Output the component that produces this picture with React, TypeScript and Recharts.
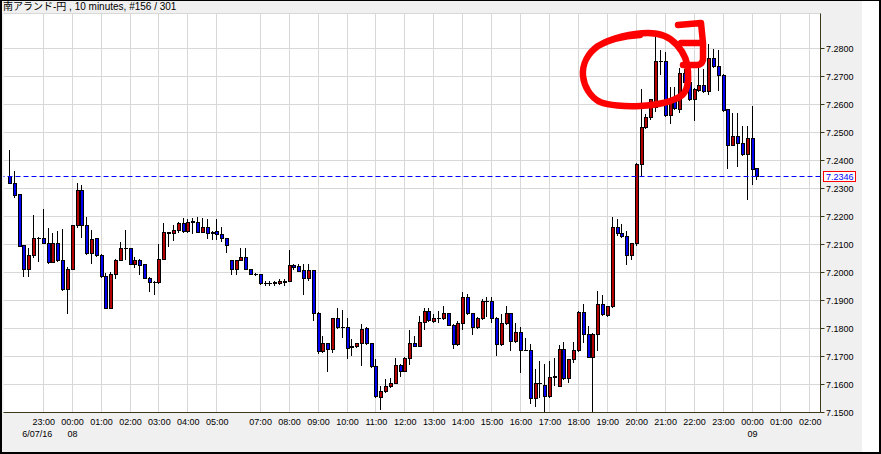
import React from 'react';
import { ComposedChart, Bar, XAxis, YAxis, CartesianGrid, ReferenceLine } from 'recharts';

const FONT = "'Liberation Sans', Arial, sans-serif";
const FRAME = '#3a3a1a';
const UP = '#b40000';
const DOWN = '#0000f0';
const GRID = '#d8d8d8';
const PAD = { left: 4, right: 3 };

// 10-minute slots (the ones after 00:10 are still empty)
const times = [
  '21:50', '22:00', '22:10', '22:20', '22:30', '22:40', '22:50',
  '23:00', '23:10', '23:20', '23:30', '23:40', '23:50',
  '00:00', '00:10', '00:20', '00:30', '00:40', '00:50',
  '01:00', '01:10', '01:20', '01:30', '01:40', '01:50',
  '02:00', '02:10', '02:20', '02:30', '02:40', '02:50',
  '03:00', '03:10', '03:20', '03:30', '03:40', '03:50',
  '04:00', '04:10', '04:20', '04:30', '04:40', '04:50',
  '05:00', '05:10', '05:20',
  '06:00', '06:10', '06:20', '06:30', '06:40', '06:50',
  '07:00', '07:10', '07:20', '07:30', '07:40', '07:50',
  '08:00', '08:10', '08:20', '08:30', '08:40', '08:50',
  '09:00', '09:10', '09:20', '09:30', '09:40', '09:50',
  '10:00', '10:10', '10:20', '10:30', '10:40', '10:50',
  '11:00', '11:10', '11:20', '11:30', '11:40', '11:50',
  '12:00', '12:10', '12:20', '12:30', '12:40', '12:50',
  '13:00', '13:10', '13:20', '13:30', '13:40', '13:50',
  '14:00', '14:10', '14:20', '14:30', '14:40', '14:50',
  '15:00', '15:10', '15:20', '15:30', '15:40', '15:50',
  '16:00', '16:10', '16:20', '16:30', '16:40', '16:50',
  '17:00', '17:10', '17:20', '17:30', '17:40', '17:50',
  '18:00', '18:10', '18:20', '18:30', '18:40', '18:50',
  '19:00', '19:10', '19:20', '19:30', '19:40', '19:50',
  '20:00', '20:10', '20:20', '20:30', '20:40', '20:50',
  '21:00', '21:10', '21:20', '21:30', '21:40', '21:50',
  '22:00', '22:10', '22:20', '22:30', '22:40', '22:50',
  '23:00', '23:10', '23:20', '23:30', '23:40', '23:50',
  '00:00', '00:10', '00:20', '00:30', '00:40', '00:50',
  '01:00', '01:10', '01:20', '01:30', '01:40', '01:50',
  '02:00', '02:10',
];

const opens = [
  7.2343, 7.2321, 7.2280, 7.2098, 7.2014, 7.2061, 7.2125, 7.2125, 7.2107, 7.2038,
  7.2104, 7.2043, 7.1942, 7.2014, 7.2168, 7.2293, 7.2171, 7.2071, 7.2123, 7.2064,
  7.1986, 7.1875, 7.1996, 7.2046, 7.2087, 7.2087, 7.2031, 7.2046, 7.2030, 7.1982,
  7.1967, 7.1965, 7.2050, 7.2143, 7.2140, 7.2152, 7.2176, 7.2149, 7.2179, 7.2182,
  7.2146, 7.2161, 7.2146, 7.2148, 7.2136, 7.2124, 7.2044, 7.2013, 7.2046, 7.2057,
  7.2011, 7.1995, 7.1994, 7.1962, 7.1963, 7.1964, 7.1964, 7.1966, 7.1970, 7.2026,
  7.2024, 7.2008, 7.1982, 7.2008, 7.1857, 7.1721, 7.1747, 7.1726, 7.1836, 7.1806,
  7.1806, 7.1736, 7.1736, 7.1747, 7.1802, 7.1747, 7.1665, 7.1557, 7.1577, 7.1595,
  7.1607, 7.1671, 7.1649, 7.1693, 7.1750, 7.1738, 7.1825, 7.1864, 7.1827, 7.1836,
  7.1836, 7.1855, 7.1814, 7.1743, 7.1821, 7.1914, 7.1854, 7.1804, 7.1836, 7.1898,
  7.1899, 7.1839, 7.1743, 7.1818, 7.1854, 7.1754, 7.1786, 7.1725, 7.1724, 7.1551,
  7.1604, 7.1600, 7.1558, 7.1628, 7.1596, 7.1726, 7.1622, 7.1690, 7.1722, 7.1858,
  7.1779, 7.1700, 7.1780, 7.1887, 7.1850, 7.1879, 7.2164, 7.2140, 7.2129, 7.2061,
  7.2104, 7.2387, 7.2518, 7.2554, 7.2590, 7.2756, 7.2756, 7.2563, 7.2619, 7.2583,
  7.2711, 7.2682, 7.2618, 7.2653, 7.2671, 7.2647, 7.2767, 7.2736, 7.2704, 7.2583,
  7.2457, 7.2486, 7.2464, 7.2425, 7.2482, 7.2374,
];

const highs = [
  7.2437, 7.2361, 7.2282, 7.2100, 7.2087, 7.2205, 7.2126, 7.2226, 7.2158, 7.2140,
  7.2147, 7.2156, 7.2019, 7.2170, 7.2321, 7.2313, 7.2200, 7.2151, 7.2125, 7.2067,
  7.2000, 7.2002, 7.2048, 7.2108, 7.2151, 7.2088, 7.2054, 7.2048, 7.2031, 7.1983,
  7.1968, 7.2101, 7.2177, 7.2145, 7.2169, 7.2182, 7.2194, 7.2190, 7.2193, 7.2198,
  7.2195, 7.2190, 7.2147, 7.2190, 7.2164, 7.2125, 7.2045, 7.2046, 7.2087, 7.2087,
  7.2012, 7.1997, 7.1996, 7.1970, 7.1969, 7.1970, 7.1976, 7.1976, 7.2080, 7.2032,
  7.2030, 7.2030, 7.2030, 7.2009, 7.1858, 7.1774, 7.1748, 7.1837, 7.1872, 7.1866,
  7.1836, 7.1762, 7.1749, 7.1815, 7.1804, 7.1748, 7.1691, 7.1595, 7.1619, 7.1623,
  7.1695, 7.1672, 7.1700, 7.1794, 7.1774, 7.1845, 7.1873, 7.1875, 7.1851, 7.1862,
  7.1879, 7.1857, 7.1815, 7.1827, 7.1929, 7.1923, 7.1856, 7.1840, 7.1905, 7.1911,
  7.1911, 7.1840, 7.1851, 7.1881, 7.1855, 7.1820, 7.1804, 7.1765, 7.1745, 7.1654,
  7.1684, 7.1672, 7.1685, 7.1695, 7.1742, 7.1751, 7.1692, 7.1751, 7.1864, 7.1887,
  7.1810, 7.1783, 7.1933, 7.1921, 7.1880, 7.2197, 7.2191, 7.2173, 7.2147, 7.2107,
  7.2390, 7.2655, 7.2565, 7.2620, 7.2843, 7.2793, 7.2786, 7.2661, 7.2661, 7.2732,
  7.2726, 7.2690, 7.2660, 7.2751, 7.2728, 7.2817, 7.2799, 7.2796, 7.2708, 7.2584,
  7.2569, 7.2571, 7.2524, 7.2524, 7.2593, 7.2375,
];

const lows = [
  7.2318, 7.2268, 7.2093, 7.1986, 7.1988, 7.2057, 7.2042, 7.2104, 7.2035, 7.2036,
  7.2040, 7.1938, 7.1857, 7.2012, 7.2164, 7.2127, 7.2067, 7.2035, 7.2060, 7.1983,
  7.1873, 7.1873, 7.1979, 7.2045, 7.2048, 7.2029, 7.2020, 7.1994, 7.1981, 7.1935,
  7.1924, 7.1963, 7.2048, 7.2093, 7.2117, 7.2146, 7.2143, 7.2145, 7.2141, 7.2143,
  7.2143, 7.2123, 7.2119, 7.2119, 7.2112, 7.2075, 7.1993, 7.1995, 7.2045, 7.2011,
  7.1994, 7.1992, 7.1960, 7.1955, 7.1955, 7.1956, 7.1958, 7.1955, 7.1968, 7.2014,
  7.2005, 7.1925, 7.1975, 7.1831, 7.1713, 7.1715, 7.1650, 7.1715, 7.1802, 7.1771,
  7.1694, 7.1705, 7.1734, 7.1671, 7.1745, 7.1663, 7.1557, 7.1514, 7.1573, 7.1592,
  7.1605, 7.1629, 7.1647, 7.1673, 7.1736, 7.1736, 7.1800, 7.1827, 7.1825, 7.1822,
  7.1835, 7.1811, 7.1729, 7.1741, 7.1800, 7.1852, 7.1782, 7.1802, 7.1834, 7.1845,
  7.1825, 7.1706, 7.1741, 7.1816, 7.1724, 7.1752, 7.1644, 7.1722, 7.1534, 7.1525,
  7.1554, 7.1505, 7.1556, 7.1598, 7.1594, 7.1620, 7.1608, 7.1682, 7.1720, 7.1751,
  7.1698, 7.1500, 7.1724, 7.1850, 7.1846, 7.1877, 7.2135, 7.2127, 7.2032, 7.2050,
  7.2100, 7.2348, 7.2515, 7.2550, 7.2577, 7.2708, 7.2560, 7.2533, 7.2583, 7.2574,
  7.2680, 7.2615, 7.2543, 7.2650, 7.2645, 7.2638, 7.2733, 7.2652, 7.2578, 7.2375,
  7.2455, 7.2381, 7.2420, 7.2262, 7.2315, 7.2333,
];

const closes = [
  7.2321, 7.2277, 7.2095, 7.2014, 7.2061, 7.2125, 7.2124, 7.2106, 7.2038, 7.2104,
  7.2043, 7.1940, 7.2014, 7.2168, 7.2293, 7.2170, 7.2071, 7.2121, 7.2063, 7.1986,
  7.1875, 7.1996, 7.2046, 7.2087, 7.2086, 7.2031, 7.2046, 7.2027, 7.1982, 7.1967,
  7.1965, 7.2050, 7.2143, 7.2142, 7.2152, 7.2176, 7.2149, 7.2180, 7.2185, 7.2146,
  7.2161, 7.2142, 7.2142, 7.2136, 7.2124, 7.2100, 7.2014, 7.2046, 7.2056, 7.2012,
  7.1995, 7.1994, 7.1961, 7.1963, 7.1964, 7.1965, 7.1968, 7.1971, 7.2026, 7.2021,
  7.2006, 7.1982, 7.2008, 7.1857, 7.1721, 7.1747, 7.1726, 7.1836, 7.1804, 7.1805,
  7.1732, 7.1735, 7.1747, 7.1800, 7.1747, 7.1665, 7.1559, 7.1577, 7.1595, 7.1607,
  7.1671, 7.1649, 7.1693, 7.1750, 7.1738, 7.1825, 7.1864, 7.1829, 7.1836, 7.1837,
  7.1855, 7.1813, 7.1743, 7.1821, 7.1914, 7.1854, 7.1804, 7.1836, 7.1898, 7.1897,
  7.1839, 7.1743, 7.1818, 7.1855, 7.1754, 7.1786, 7.1724, 7.1724, 7.1551, 7.1604,
  7.1605, 7.1558, 7.1628, 7.1629, 7.1726, 7.1622, 7.1690, 7.1722, 7.1858, 7.1779,
  7.1700, 7.1780, 7.1887, 7.1852, 7.1879, 7.2164, 7.2141, 7.2129, 7.2061, 7.2104,
  7.2387, 7.2518, 7.2554, 7.2619, 7.2754, 7.2757, 7.2563, 7.2619, 7.2586, 7.2711,
  7.2682, 7.2618, 7.2654, 7.2671, 7.2647, 7.2767, 7.2736, 7.2704, 7.2581, 7.2457,
  7.2486, 7.2464, 7.2425, 7.2482, 7.2371, 7.2346,
];

const priceTicks = [
  7.15, 7.16, 7.17, 7.18, 7.19, 7.2, 7.21, 7.22, 7.23, 7.24, 7.25, 7.26, 7.27, 7.28,
];
const yDomain = [7.15, 7.2925];

// slots that carry an hour label (06:00 is dropped, as in the original)
const hourTicks = [
  7, 13, 19, 25, 31, 37, 43, 52, 58, 64, 70, 76, 82, 88, 94, 100, 106, 112, 118,
  124, 130, 136, 142, 148, 154, 160, 166,
];
const dayTicks = [7, 13, 154];
const dayLabels = ['6/07/16', '08', '09'];

const lastPrice = 7.2346;
const title = '南アランド-円 , 10 minutes, #156 / 301';

const data = times.map((t, i) => {
  const row: any = { idx: i, t, hour: hourTicks.includes(i) };
  if (i < opens.length) {
    row.o = opens[i];
    row.h = highs[i];
    row.l = lows[i];
    row.c = closes[i];
    row.range = [lows[i], highs[i]];
  } else if (row.hour) {
    // empty hour slot: span the whole axis so its grid line can be drawn
    row.range = yDomain;
  }
  return row;
});

// one slot: hour grid line (if any) behind the candle (if any)
const Candle = (props: any) => {
  const { x, y, width, height, payload } = props;
  if (!payload || !payload.range || !isFinite(y) || !isFinite(height)) return <g />;
  const [lo, hi] = payload.range;
  const top = Math.min(y, y + height);
  const k = Math.abs(height) / (hi - lo);
  const py = (v: number) => Math.round(top + (hi - v) * k);
  const cx = Math.round(x + width / 2);
  const gTop = py(yDomain[1]);
  const gBot = py(yDomain[0]);
  const grid = payload.hour ? (
    <rect x={cx - 1} y={gTop} width={1} height={gBot - gTop} fill={GRID} stroke="none" />
  ) : null;
  if (payload.o == null) return <g>{grid}</g>;
  const { o, h, l, c } = payload;
  const yH = py(h);
  const yL = py(l);
  const yO = py(o);
  const yC = py(c);
  const bTop = Math.min(yO, yC);
  const bBot = Math.max(yO, yC);
  return (
    <g>
      {grid}
      <line x1={cx - 0.5} x2={cx - 0.5} y1={yH} y2={yL + 1} stroke="#000" strokeWidth={1} />
      {bBot > bTop ? (
        <rect
          x={cx - 1.5}
          y={bTop + 0.5}
          width={3}
          height={bBot - bTop}
          fill={c > o ? UP : DOWN}
          stroke="#000"
          strokeWidth={1}
        />
      ) : (
        <line x1={cx - 2} x2={cx + 2} y1={bTop + 0.5} y2={bTop + 0.5} stroke="#000" strokeWidth={1} />
      )}
    </g>
  );
};

const TimeTick = (props: any) => {
  const { x, y, payload } = props;
  const i = payload.value;
  const d = dayTicks.indexOf(i);
  return (
    <g>
      <text x={x} y={y + 12.5} textAnchor="middle" fontSize={9} fontFamily={FONT} fill="#000">
        {times[i]}
      </text>
      {d >= 0 && (
        <text
          x={d === 0 ? x - 6.5 : x}
          y={y + 24}
          textAnchor="middle"
          fontSize={9}
          fontFamily={FONT}
          fill="#000"
        >
          {dayLabels[d]}
        </text>
      )}
    </g>
  );
};

// dashed last-price line snapped to a whole pixel row
const PriceLine = (props: any) => {
  const { x1, x2, y1, y2 } = props;
  const y = isFinite(y1) ? Math.round(y1) + 0.5 : y1;
  return (
    <line
      x1={x1}
      x2={x2}
      y1={isFinite(y1) ? y : y1}
      y2={isFinite(y2) ? y : y2}
      stroke="#0000ff"
      strokeWidth={1}
      strokeDasharray="5 3"
    />
  );
};

const PriceTag = (props: any) => {
  const vb = props.viewBox || {};
  const x = Math.round(vb.x + vb.width) + 2.5;
  const y = Math.round(vb.y);
  return (
    <g>
      <rect x={x} y={y - 4.5} width={32} height={10} fill="#fff" stroke="#ff0000" strokeWidth={1} />
      <text x={x + 2.5} y={y + 3.5} fontSize={9} fontFamily={FONT} fill="#0000ff">
        {lastPrice.toFixed(4)}
      </text>
    </g>
  );
};

export default function App() {
  return (
    <div style={{ position: 'absolute', left: 0, top: 0, width: 881, height: 454, background: '#fff' }}>
      {/* window frame */}
      <div
        style={{
          position: 'absolute',
          left: 0,
          top: 0,
          width: 881,
          height: 454,
          boxSizing: 'border-box',
          border: '1px solid #000',
          borderLeftWidth: 2,
          borderRightWidth: 2,
          borderBottomWidth: 2,
          background: '#f0f0f0',
        }}
      />
      <div style={{ position: 'absolute', left: 862, top: 1, width: 17, height: 451, background: '#fff' }} />
      <div
        style={{
          position: 'absolute',
          left: 3,
          top: 0,
          fontSize: 10,
          lineHeight: '13px',
          fontFamily: "'Liberation Sans', 'Noto Sans CJK JP', sans-serif",
          color: '#000',
          whiteSpace: 'nowrap',
        }}
      >
        {title}
      </div>
      <div style={{ position: 'absolute', left: 0, top: 0 }}>
        <ComposedChart
          width={881}
          height={454}
          data={data}
          margin={{ top: 13.5, right: 0, bottom: 0, left: 3.5 }}
          barCategoryGap={0}
        >
          <CartesianGrid stroke={GRID} fill="#fff" vertical={false} />
          <XAxis
            dataKey="idx"
            type="category"
            ticks={hourTicks}
            interval={0}
            height={41.5}
            padding={PAD}
            tickLine={false}
            tickSize={0}
            tickMargin={0}
            axisLine={{ stroke: FRAME }}
            tick={<TimeTick />}
          />
          <XAxis
            xAxisId="top"
            dataKey="idx"
            orientation="top"
            height={0}
            tick={false}
            tickLine={false}
            axisLine={{ stroke: FRAME }}
          />
          <YAxis
            orientation="right"
            type="number"
            domain={yDomain}
            ticks={priceTicks}
            interval={0}
            allowDataOverflow
            width={60.5}
            tickSize={4}
            tickMargin={1.5}
            axisLine={{ stroke: FRAME }}
            tickLine={{ stroke: FRAME }}
            tick={{ fontSize: 9, fill: '#000', fontFamily: FONT }}
            tickFormatter={(v: number) => v.toFixed(4)}
          />
          <YAxis
            yAxisId="left"
            orientation="left"
            type="number"
            domain={yDomain}
            width={0}
            tick={false}
            tickLine={false}
            axisLine={{ stroke: FRAME }}
          />
          <Bar dataKey="range" shape={<Candle />} isAnimationActive={false} />
          <ReferenceLine
            y={lastPrice}
            stroke="#0000ff"
            strokeDasharray="5 3"
            strokeWidth={1}
            shape={<PriceLine />}
            label={<PriceTag />}
          />
        </ComposedChart>
      </div>
      {/* hand-drawn red marks on the screenshot */}
      <svg
        width={881}
        height={454}
        style={{ position: 'absolute', left: 0, top: 0, pointerEvents: 'none' }}
      >
        <g fill="none" stroke="#ff0000" strokeWidth={6.5} strokeLinecap="round" strokeLinejoin="round">
          <path d="M 598 46 C 612 38, 632 33, 648 33 C 660 33, 670 37, 677 45 C 684 53, 688 62, 688 72 C 689 82, 687 92, 681 96 C 672 102, 655 105, 640 106 C 625 107, 608 105, 600 102 C 590 97, 584 86, 583 76 C 582 64, 588 53, 598 46 C 608 40, 625 36, 640 35" />
          <path d="M 678 25 L 701 23 L 703 43 L 681 43 M 703 43 L 703 60 C 702 64, 700 65, 697 65 L 683 65" />
        </g>
      </svg>
    </div>
  );
}
